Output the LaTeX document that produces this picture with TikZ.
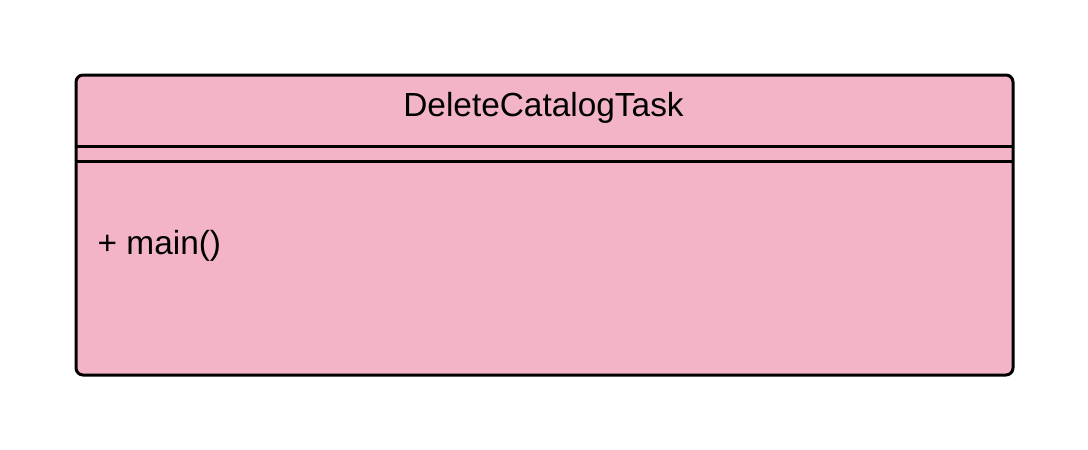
\documentclass[tikz,border=0pt]{standalone}
\usepackage{fontspec}
\setmainfont{Liberation Sans}
\definecolor{umlpink}{RGB}{244,180,200}
\tikzset{
  classbox/.style={draw=black, line width=3pt, fill=umlpink, rounded corners=7pt},
  sep/.style={draw=black, line width=3pt},
  lbl/.style={font=\fontsize{33.4}{38}\selectfont, inner sep=0pt}
}
\begin{document}
\begin{tikzpicture}[x=1pt,y=-1pt]
\useasboundingbox (0,0) rectangle (1088,450);
\node[classbox, minimum width=937pt, minimum height=300pt, anchor=north west] (box) at (74.5,73.5) {};
\coordinate (s1l) at (74.5,146);
\coordinate (s1r) at (1011.5,146);
\coordinate (s2l) at (74.5,161);
\coordinate (s2r) at (1011.5,161);
\draw[sep] (s1l) -- (s1r);
\draw[sep] (s2l) -- (s2r);
\node[lbl] (title) at (543.5,108) {DeleteCatalogTask};
\node[lbl, anchor=west] (op) at (97.5,246) {+ main()};
\end{tikzpicture}
\end{document}
